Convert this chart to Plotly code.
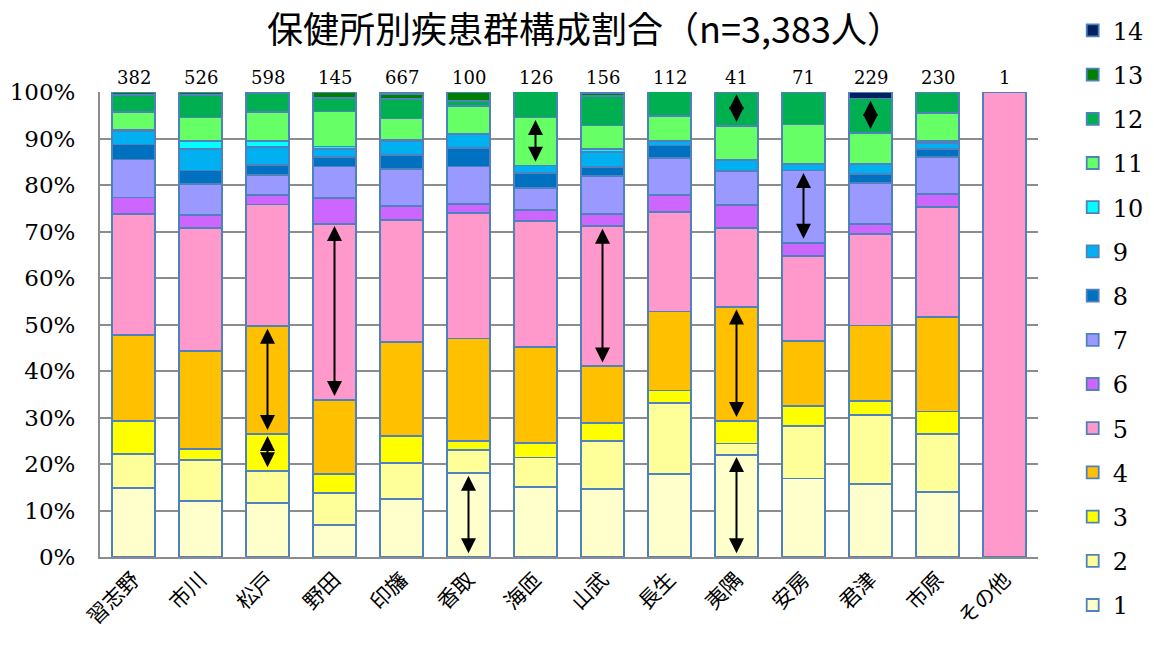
import plotly.graph_objects as go

categories = ["習志野", "市川", "松戸", "野田", "印旛", "香取", "海匝", "山武",
              "長生", "夷隅", "安房", "君津", "市原", "その他"]
counts = [382, 526, 598, 145, 667, 100, 126, 156, 112, 41, 71, 229, 230, 1]

# percentage share of each disease group (1..14) per health centre
s1 = [14.9, 12.1, 11.6, 6.9, 12.4, 18.0, 15.1, 14.7, 17.9, 22.0, 16.9, 15.7, 13.9, 0]
s2 = [7.2, 8.7, 6.9, 6.9, 7.8, 5.0, 6.3, 10.3, 15.2, 2.4, 11.3, 14.8, 12.6, 0]
s3 = [7.1, 2.5, 8.0, 4.1, 5.8, 2.0, 3.2, 3.8, 2.7, 4.9, 4.2, 3.1, 4.8, 0]
s4 = [18.6, 21.0, 23.1, 15.9, 20.2, 22.0, 20.6, 12.2, 17.0, 24.4, 14.1, 16.2, 20.4, 0]
s5 = [26.0, 26.5, 26.2, 37.9, 26.2, 27.0, 27.0, 30.1, 21.4, 17.1, 18.3, 19.7, 23.5, 100]
s6 = [3.5, 2.7, 2.0, 5.5, 3.0, 2.0, 2.4, 2.6, 3.6, 4.9, 2.8, 2.2, 2.8, 0]
s7 = [8.2, 6.7, 4.4, 6.8, 8.0, 8.0, 4.8, 8.3, 8.0, 7.3, 15.5, 8.7, 8.1, 0]
s8 = [3.2, 2.9, 2.1, 2.0, 3.1, 4.0, 3.2, 1.9, 2.7, 0, 0, 2.0, 1.6, 0]
s9 = [2.9, 4.6, 3.8, 1.8, 2.9, 3.0, 1.6, 3.2, 0.9, 2.4, 1.4, 2.2, 1.3, 0]
s10 = [0.3, 1.8, 1.3, 0.5, 0.4, 0, 0, 0.6, 0, 0, 0, 0, 0.4, 0]
s11 = [3.8, 5.0, 6.3, 7.5, 4.5, 6.0, 10.3, 5.1, 5.4, 7.3, 8.5, 6.6, 6.1, 0]
s12 = [3.7, 4.8, 4.0, 2.9, 4.2, 1.0, 5.6, 6.4, 5.4, 7.3, 7.0, 7.4, 4.5, 0]
s13 = [0.6, 0.7, 0.3, 1.3, 1.0, 2.0, 0, 0.6, 0, 0, 0, 0, 0, 0]
s14 = [0, 0, 0, 0, 0.5, 0, 0, 0, 0, 0, 0, 1.3, 0, 0]

series = [s1, s2, s3, s4, s5, s6, s7, s8, s9, s10, s11, s12, s13, s14]
series_names = [str(i) for i in range(1, 15)]
colors = ["#FFFFCC", "#FFFF99", "#FFFF00", "#FFC000", "#FF99CC", "#CC66FF", "#9999FF",
          "#0070C0", "#00B0F0", "#00FFFF", "#66FF66", "#00B050", "#008000", "#002060"]

# double-headed arrows: (category, disease group whose segment they span)
arrows = [("松戸", 4), ("松戸", 3), ("野田", 5), ("香取", 1), ("海匝", 11), ("山武", 5),
          ("夷隅", 12), ("夷隅", 4), ("夷隅", 1), ("安房", 7), ("君津", 12)]

title_text = "保健所別疾患群構成割合（n=3,383人）"

fig = go.Figure()
for idx, (name, vals, col) in enumerate(zip(series_names, series, colors)):
    fig.add_trace(go.Bar(
        x=categories, y=vals, name=name, legendgroup=name,
        legendrank=100 - idx,
        marker=dict(color=col, line=dict(color="#4F81BD", width=1.8)),
    ))

annotations = []
for cat, n in zip(categories, counts):
    annotations.append(dict(x=cat, y=100, xref="x", yref="y", text=str(n),
                            showarrow=False, yanchor="bottom", yshift=2,
                            font=dict(family="DejaVu Serif", size=18, color="black")))

for cat, k in arrows:
    i = categories.index(cat)
    bottom = sum(series[j][i] for j in range(k - 1))
    top = bottom + series[k - 1][i]
    annotations.append(dict(x=cat, y=top - 0.5, ax=cat, ay=bottom + 0.5,
                            xref="x", yref="y", axref="x", ayref="y",
                            text="", showarrow=True, arrowhead=2, startarrowhead=2,
                            arrowside="end+start", arrowsize=1.5, startarrowsize=1.5,
                            arrowwidth=2, arrowcolor="black", standoff=0, startstandoff=0))

fig.update_layout(
    barmode="stack",
    bargap=0.36,
    width=1154, height=647,
    margin=dict(l=92, r=124, t=84, b=98, autoexpand=False),
    plot_bgcolor="white", paper_bgcolor="white",
    title=dict(text=title_text, x=0.5, xanchor="center", y=0.966, yanchor="middle",
               font=dict(family="Noto Sans CJK JP", size=36, color="black")),
    legend=dict(traceorder="grouped", tracegroupgap=10,
                x=1.037, xanchor="left", y=1.18, yanchor="top", maxheight=1.0,
                font=dict(family="DejaVu Serif", size=24, color="black"),
                bgcolor="rgba(0,0,0,0)"),
    annotations=annotations,
    showlegend=True,
)
fig.update_xaxes(tickangle=-45, showline=True, linecolor="#8C8C8C", linewidth=2,
                 tickfont=dict(family="Noto Sans CJK JP", size=21, color="black"),
                 ticks="")
fig.update_yaxes(range=[0, 100], dtick=10, ticksuffix="%", showgrid=True,
                 gridcolor="#8C8C8C", gridwidth=2, showline=True, linecolor="#8C8C8C",
                 linewidth=2, zeroline=False, ticks="", ticklabelstandoff=18,
                 tickfont=dict(family="DejaVu Serif", size=23, color="black"))

fig.write_html("out.html")
